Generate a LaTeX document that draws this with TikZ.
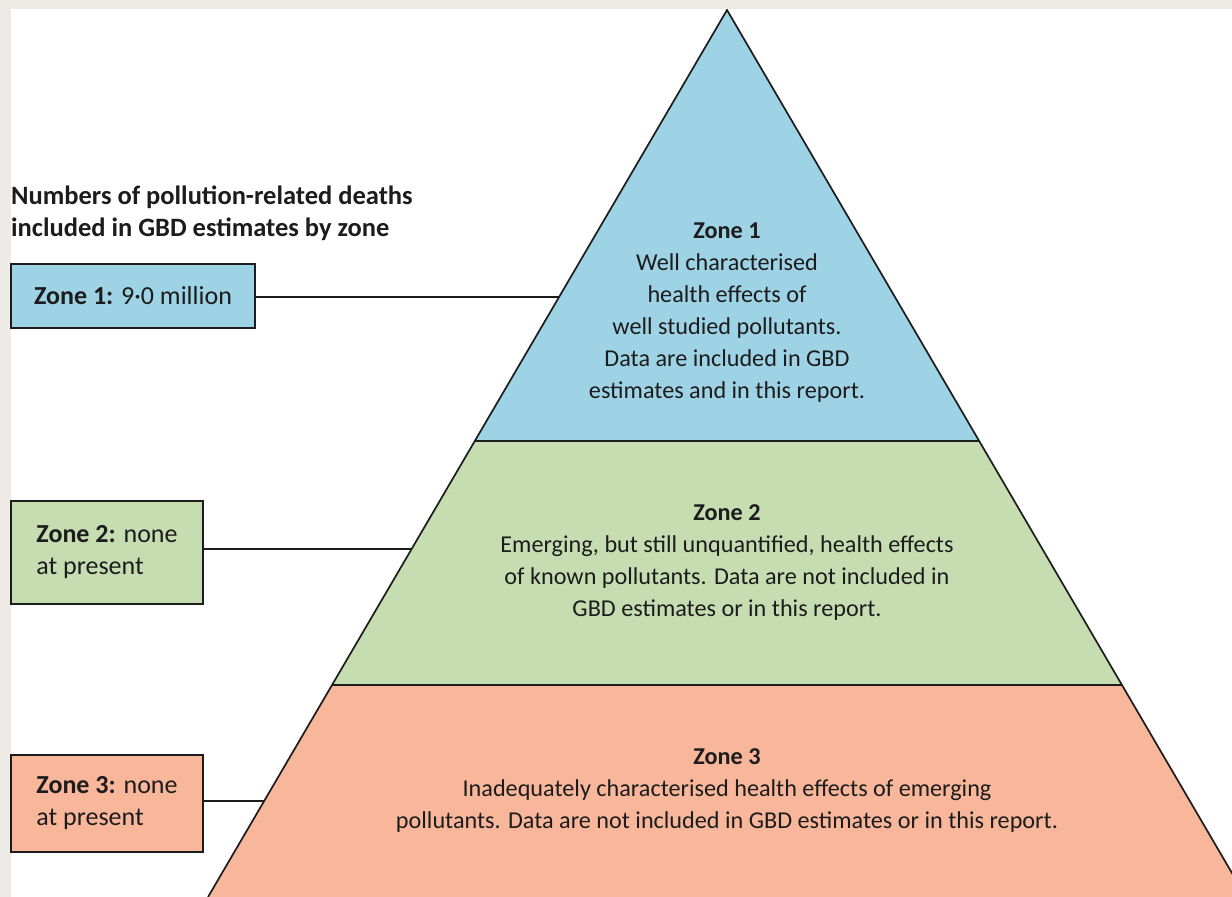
\documentclass[tikz,border=0pt]{standalone}
\usepackage{fontspec}
\setmainfont{Carlito}
\usepackage{tikz}

\definecolor{zoneblue}{HTML}{9ED3E5}
\definecolor{zonegreen}{HTML}{C6DDB1}
\definecolor{zonesalmon}{HTML}{F8B69B}
\definecolor{pagegray}{HTML}{EEEBE6}
\definecolor{inkgray}{HTML}{1C1C1C}

\begin{document}
\begin{tikzpicture}[x=1pt,y=-1pt,
    zonebox/.style={draw=inkgray,line width=1.5pt,inner sep=0pt,align=left,
        font=\fontsize{26}{32}\selectfont,text=inkgray},
    zonetext/.style={align=center,inner sep=0pt,font=\fontsize{24.2}{32}\selectfont,text=inkgray},
    edge/.style={draw=inkgray,line width=1.7pt},
    link/.style={draw=inkgray,line width=1.2pt}]
                \useasboundingbox (0,0) rectangle (1232,897);
                \fill [pagegray] (0,0) rectangle (1232,897);
                \fill [white] (11,9) rectangle (1232,897);
                % pyramid corners
                \coordinate (apex) at (727,10);
                \coordinate (t1l) at (474.8,441);
                \coordinate (t1r) at (979.2,441);
                \coordinate (t2l) at (332.1,685);
                \coordinate (t2r) at (1121.9,685);
                \coordinate (t3l) at (208,897);
                \coordinate (t3r) at (1246,897);
                \begin{scope}
                \clip (11,9) rectangle (1232,897);
                \fill [zoneblue] (apex) -- (t1r) -- (t1l) -- cycle;
                \fill [zonegreen] (t1l) -- (t1r) -- (t2r) -- (t2l) -- cycle;
                \fill [zonesalmon] (t2l) -- (t2r) -- (t3r) -- (t3l) -- cycle;
                \draw [edge] (t1l) -- (t1r);
                \draw [edge] (t2l) -- (t2r);
                \draw [edge,line join=miter] (t3l) -- (apex) -- (t3r);
                \end{scope}
                % texts in the pyramid
                \node [zonetext] (z1text) at (727,313) {\textbf{Zone 1}\\Well characterised\\health effects of\\well studied pollutants.\\Data are included in GBD\\estimates and in this report.};
                \node [zonetext] (z2text) at (727,563) {\textbf{Zone 2}\\Emerging, but still unquantified, health effects\\of known pollutants. Data are not included in\\GBD estimates or in this report.};
                \node [zonetext] (z3text) at (727,791) {\textbf{Zone 3}\\Inadequately characterised health effects of emerging\\pollutants. Data are not included in GBD estimates or in this report.};
                % boxes on the left
                \node [zonetext,align=left,anchor=west,font=\fontsize{26.5}{32}\selectfont\bfseries] (heading) at (11,213) {Numbers of pollution-related deaths\\included in GBD estimates by zone};
                \node [zonebox,fill=zoneblue,minimum width=244pt,minimum height=64pt] (box1) at (133,296) {\textbf{Zone 1:} 9·0 million};
                \node [zonebox,fill=zonegreen,minimum width=192pt,minimum height=103pt] (box2) at (107,552.5) {\textbf{Zone 2:} none\\at present};
                \node [zonebox,fill=zonesalmon,minimum width=192pt,minimum height=97pt] (box3) at (107,803.5) {\textbf{Zone 3:} none\\at present};
                \coordinate (e1) at (559.1,297);
                \coordinate (e2) at (411.6,549);
                \coordinate (e3) at (264.2,801);
                \draw [link] (box1.east |- e1) -- (e1);
                \draw [link] (box2.east |- e2) -- (e2);
                \draw [link] (box3.east |- e3) -- (e3);
            \end{tikzpicture}
\end{document}
